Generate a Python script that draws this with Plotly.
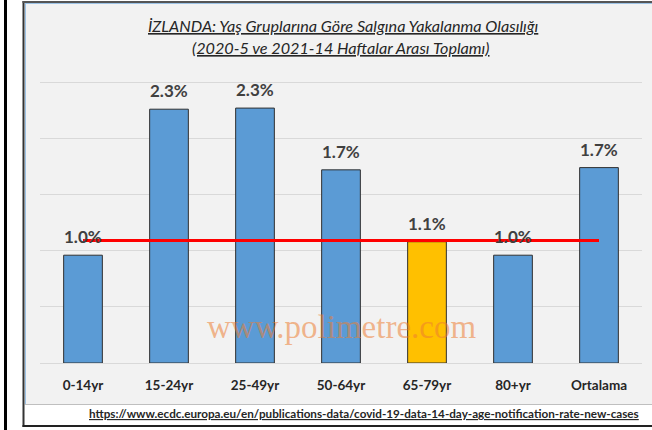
import plotly.graph_objects as go

# ---- data ----
categories = ["0-14yr", "15-24yr", "25-49yr", "50-64yr", "65-79yr", "80+yr", "Ortalama"]
values = [0.96, 2.26, 2.27, 1.72, 1.08, 0.96, 1.74]          # percent
bar_colors = ["#5B9BD5", "#5B9BD5", "#5B9BD5", "#5B9BD5", "#FFC000", "#5B9BD5", "#5B9BD5"]
reference_value = 1.09                                        # red reference line (65-79yr level)
y_ticks = [0, 0.5, 1.0, 1.5, 2.0, 2.5]

title_line1 = "İZLANDA: Yaş Gruplarına Göre Salgına Yakalanma Olasılığı"
title_line2 = "(2020-5 ve 2021-14 Haftalar Arası Toplamı)"
source_text = "https://www.ecdc.europa.eu/en/publications-data/covid-19-data-14-day-age-notification-rate-new-cases"
watermark = "www.polimetre.com"

# ---- geometry (pixels) ----
W, H = 652, 430
ML, MR, MT, MB = 40, 10, 80, 67
PW, PH = W - ML - MR, H - MT - MB


def px(x):
    return (x - ML) / PW


def py(y):
    return (H - MB - y) / PH


fig = go.Figure()

fig.add_trace(go.Bar(
    x=categories, y=values,
    marker=dict(color=bar_colors, line=dict(color="#303030", width=1)),
    width=0.45,
    hoverinfo="skip",
))

fig.add_trace(go.Scatter(
    x=[categories[0], categories[-1]], y=[reference_value, reference_value],
    mode="lines", line=dict(color="#FF0000", width=3), hoverinfo="skip",
))

annotations = []
for c, v in zip(categories, values):
    annotations.append(dict(
        x=c, y=v, xref="x", yref="y", text=f"<b>{v:.1f}%</b>", showarrow=False,
        yanchor="middle", yshift=18.5,
        font=dict(family="Lato", size=17, color="#404040"),
    ))

annotations += [
    dict(x=px(343), y=py(26), xref="paper", yref="paper", showarrow=False,
         text=f"<i><u>{title_line1}</u></i>", xanchor="center", yanchor="middle",
         font=dict(family="Lato", size=16.2, color="#262626")),
    dict(x=px(341), y=py(47), xref="paper", yref="paper", showarrow=False,
         text=f"<i><u>{title_line2}</u></i>", xanchor="center", yanchor="middle",
         font=dict(family="Lato", size=16.2, color="#262626")),
    dict(x=px(641), y=py(413), xref="paper", yref="paper", showarrow=False,
         text=f"<b><u>{source_text}</u></b>", xanchor="right", yanchor="middle",
         font=dict(family="Lato", size=11.7, color="#262626")),
    dict(x=px(341), y=py(327), xref="paper", yref="paper", showarrow=False,
         text=watermark, xanchor="center", yanchor="middle",
         font=dict(family="Liberation Serif", size=33, color="rgba(237,125,49,0.55)")),
]

shapes = [
    # chart box background
    dict(type="rect", xref="paper", yref="paper", x0=px(24), x1=px(652), y0=py(3), y1=py(405),
         fillcolor="#F2F2F2", line=dict(width=0), layer="below"),
    # light blue inner edges
    dict(type="line", xref="paper", yref="paper", x0=px(25.5), x1=px(25.5), y0=py(3), y1=py(405),
         line=dict(color="#9DC3E6", width=1)),
    dict(type="line", xref="paper", yref="paper", x0=px(25), x1=px(652), y0=py(3.5), y1=py(3.5),
         line=dict(color="#9DC3E6", width=1)),
    # separator above source strip
    dict(type="line", xref="paper", yref="paper", x0=px(25), x1=px(652), y0=py(404.5), y1=py(404.5),
         line=dict(color="#BFBFBF", width=1)),
    # dark frame
    dict(type="line", xref="paper", yref="paper", x0=px(23.5), x1=px(23.5), y0=py(1), y1=py(427),
         line=dict(color="#333333", width=2)),
    dict(type="line", xref="paper", yref="paper", x0=px(22.5), x1=px(652), y0=py(2), y1=py(2),
         line=dict(color="#555555", width=2)),
    dict(type="line", xref="paper", yref="paper", x0=px(22.5), x1=px(652), y0=py(426), y1=py(426),
         line=dict(color="#222222", width=2)),
    # outer black line on the left
    dict(type="line", xref="paper", yref="paper", x0=px(5.5), x1=px(5.5), y0=py(0), y1=py(430),
         line=dict(color="#000000", width=3)),
]

fig.update_layout(
    width=W, height=H,
    margin=dict(l=ML, r=MR, t=MT, b=MB, pad=0),
    paper_bgcolor="#FFFFFF", plot_bgcolor="#F2F2F2",
    showlegend=False,
    annotations=annotations, shapes=shapes,
    xaxis=dict(type="category", range=[-0.5, 6.5], showgrid=False, zeroline=False, showline=False,
               ticks="outside", ticklen=10, tickcolor="rgba(0,0,0,0)",
               tickfont=dict(family="Lato", size=13.5, color="#262626"),
               tickvals=categories, ticktext=[f"<b>{c}</b>" for c in categories], fixedrange=True),
    yaxis=dict(range=[0, 2.52], tickvals=y_ticks, showticklabels=False, showgrid=True,
               gridcolor="#D9D9D9", gridwidth=1, zeroline=True, zerolinecolor="#D9D9D9",
               zerolinewidth=1, showline=False, fixedrange=True),
)

fig.write_html("out.html", config={"displayModeBar": False},
               post_script="document.body.style.margin='0';document.body.style.padding='0';")
